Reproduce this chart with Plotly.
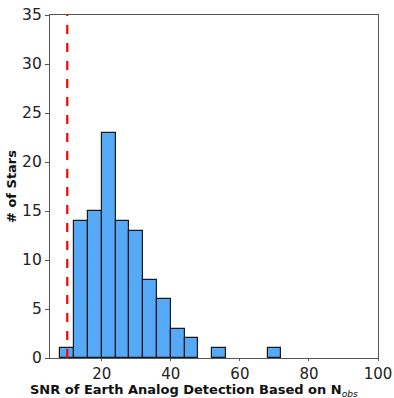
import plotly.graph_objects as go

bin_edges = [8, 12, 16, 20, 24, 28, 32, 36, 40, 44, 48, 52, 56, 60, 64, 68, 72]
counts = [1, 14, 15, 23, 14, 13, 8, 6, 3, 2, 0, 1, 0, 0, 0, 1]
threshold = 10
x_ticks = [20, 40, 60, 80, 100]
y_ticks = [0, 5, 10, 15, 20, 25, 30, 35]

centers = [(a + b) / 2 for a, b in zip(bin_edges[:-1], bin_edges[1:])]
widths = [b - a for a, b in zip(bin_edges[:-1], bin_edges[1:])]
bar_y = [c if c > 0 else None for c in counts]

fig = go.Figure()
fig.add_trace(go.Bar(
    x=centers, y=bar_y, width=widths,
    marker=dict(color="#56a9f7", line=dict(color="#1a1a1a", width=1.2)),
    showlegend=False,
))
fig.add_shape(type="line", x0=threshold, x1=threshold, y0=0, y1=1, yref="paper",
              line=dict(color="red", width=2.2, dash="dash"))

axis_style = dict(showgrid=False, zeroline=False, showline=True, linecolor="#555555",
                  linewidth=1.3, mirror=True, ticks="outside", tickwidth=1.2,
                  tickcolor="#555555", automargin=False)
fig.update_xaxes(range=[5, 100], tickvals=x_ticks, ticklen=2,
                 tickfont=dict(size=15, color="#222222", family="DejaVu Sans"), **axis_style)
fig.update_yaxes(range=[0, 35], tickvals=y_ticks, ticklen=4,
                 tickfont=dict(size=15.5, color="#222222", family="DejaVu Sans"), **axis_style,
                 title=dict(text="<b># of Stars</b>",
                            font=dict(size=13, color="#111111", family="DejaVu Sans"),
                            standoff=2))
fig.add_annotation(text="<b>SNR of Earth Analog Detection Based on N</b><sub><i>obs</i></sub>",
                   xref="paper", yref="paper", x=0.44, y=-0.095, yanchor="middle",
                   xanchor="center", showarrow=False,
                   font=dict(size=13, color="#111111", family="DejaVu Sans"))
fig.update_layout(width=394, height=398, margin=dict(l=50, r=16, t=15, b=40),
                  plot_bgcolor="white", paper_bgcolor="white", bargap=0)
fig.write_html("out.html")
